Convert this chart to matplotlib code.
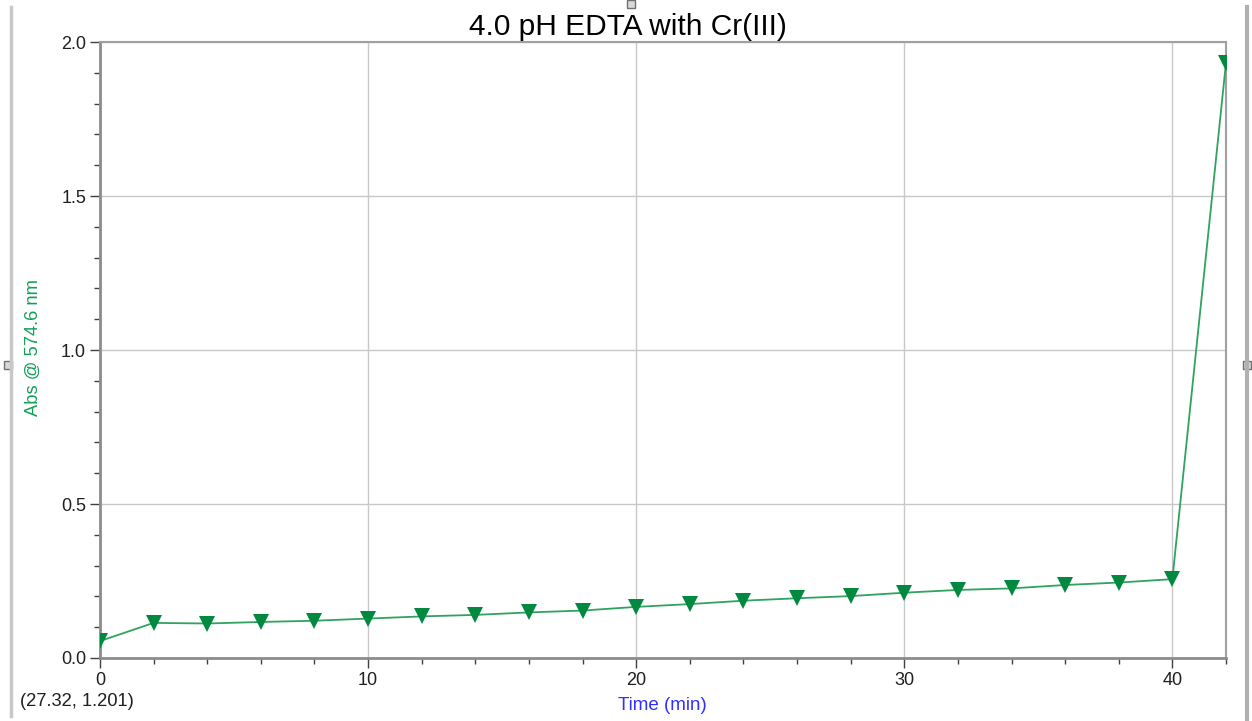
import numpy as np
import matplotlib.pyplot as plt
from matplotlib.lines import Line2D
from matplotlib.patches import Rectangle
from matplotlib.ticker import MultipleLocator

# Datos
tiempo = [0, 2, 4, 6, 8, 10, 12, 14, 16, 18, 20, 22, 24, 26, 28, 30,
          32, 34, 36, 38, 40, 42]
absorb = [0.055, 0.114, 0.112, 0.117, 0.121, 0.128, 0.135, 0.140, 0.148,
          0.154, 0.166, 0.175, 0.186, 0.194, 0.201, 0.212, 0.221, 0.226,
          0.237, 0.245, 0.256, 1.933]

titulo = '4.0 pH EDTA with Cr(III)'
etiqueta_x = 'Time (min)'
etiqueta_y = 'Abs @ 574.6 nm'
cursor = '(27.32, 1.201)'

plt.rcParams['font.family'] = ['Liberation Sans', 'DejaVu Sans']

fig = plt.figure(figsize=(12.52, 7.21), dpi=100)
ax = fig.add_axes([100/1252, 1-658/721, 1126/1252, 616/721])

verde = '#00893f'
ax.plot(tiempo, absorb, color='#2fa35f', lw=1.3, zorder=3)
ax.plot(tiempo, absorb, 'v', color=verde, ms=11.5, mew=0, zorder=4)

ax.set_xlim(0, 42)
ax.set_ylim(0, 2.0)
ax.xaxis.set_major_locator(MultipleLocator(10))
ax.xaxis.set_minor_locator(MultipleLocator(2))
ax.yaxis.set_major_locator(MultipleLocator(0.5))
ax.yaxis.set_minor_locator(MultipleLocator(0.1))
ax.yaxis.set_major_formatter(plt.FuncFormatter(lambda v, p: f'{v:.1f}'))

ax.grid(True, which='major', color='#c8c8c8', lw=1)
ax.set_axisbelow(True)
for s in ['left', 'bottom']:
    ax.spines[s].set_color('#8c8c8c')
    ax.spines[s].set_linewidth(2)
for s in ['top', 'right']:
    ax.spines[s].set_color('#a0a0a0')
    ax.spines[s].set_linewidth(1.5)

ax.tick_params(which='major', length=7, width=1, color='#404040',
               labelsize=13, labelcolor='#202020', pad=3)
ax.tick_params(which='minor', length=4, width=1, color='#404040')

# titulo centrado en la figura
fig.text(628/1252, 1-27/721, titulo, fontsize=21.5, ha='center', va='center')
fig.text(662/1252, 1-705/721, etiqueta_x, color='#3030ff', fontsize=13.5,
         ha='center', va='center')
fig.text(33/1252, 1-347/721, etiqueta_y, color='#14a05a', fontsize=13.2,
         rotation=90, ha='center', va='center')
fig.text(20/1252, 1-701/721, cursor, color='#202020', fontsize=13.2,
         ha='left', va='center')

# marco de la ventana
fig.add_artist(Line2D([11/1252, 11/1252], [1-7/721, 1-716/721],
                      color='#c8c8c8', lw=2.5))
fig.add_artist(Line2D([1247/1252, 1247/1252], [1-7/721, 1-720/721],
                      color='#b0b0b0', lw=3))
for (px, py) in [(8, 365), (1247, 365), (631, 4)]:
    fig.add_artist(Rectangle(((px-4)/1252, 1-(py+4)/721), 8/1252, 8/721,
                             facecolor='#d8d8d8', edgecolor='#707070', lw=1))

fig.savefig('out.png', dpi=100)
